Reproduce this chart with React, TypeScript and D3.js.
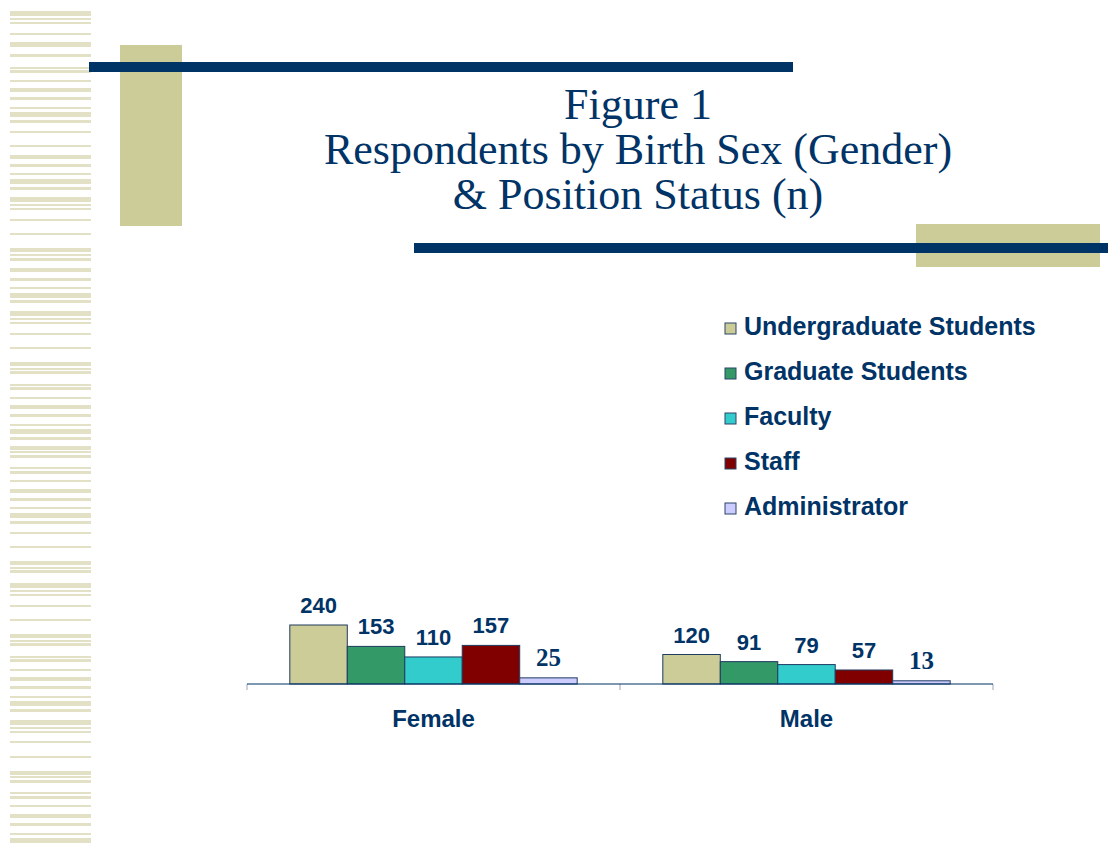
import React from "react";
import * as d3 from "d3";

// chart data
const categories = ["Female", "Male"];
const seriesNames = [
  "Undergraduate Students",
  "Graduate Students",
  "Faculty",
  "Staff",
  "Administrator",
];
const femaleValues = [240, 153, 110, 157, 25];
const maleValues = [120, 91, 79, 57, 13];
const seriesColors = ["#cccc99", "#339966", "#33cccc", "#800000", "#ccccff"];
const titleLines = [
  "Figure 1",
  "Respondents by Birth Sex (Gender)",
  "& Position Status (n)",
];

// decorative stripes on the left edge: [y, height]
const stripes: [number, number][] = [
  [11, 5], [18, 2], [22, 2], [33, 2], [42, 5], [54, 3], [67, 2], [70, 3],
  [80, 2], [88, 4], [97, 3], [107, 2], [112, 5], [120, 3], [131, 2], [145, 2],
  [155, 4], [164, 3], [173, 2], [179, 5], [187, 3], [197, 5], [204, 2], [208, 2],
  [219, 2], [233, 2], [248, 4], [254, 2], [258, 3], [268, 4], [278, 3], [287, 2],
  [293, 5], [300, 3], [311, 5], [318, 2], [322, 2], [333, 2], [347, 2], [362, 4],
  [368, 2], [371, 3], [384, 2], [387, 3], [397, 2], [405, 4], [414, 3], [424, 2],
  [429, 5], [437, 3], [446, 4], [451, 2], [455, 3], [467, 2], [471, 3], [480, 2],
  [489, 4], [498, 3], [507, 2], [513, 5], [521, 3], [532, 2], [546, 2], [561, 4],
  [567, 2], [570, 3], [583, 5], [590, 2], [594, 2], [605, 2], [619, 2], [634, 4],
  [640, 2], [643, 3], [656, 2], [659, 3], [669, 2], [677, 4], [686, 3], [696, 2],
  [701, 5], [709, 3], [720, 5], [727, 2], [731, 2], [741, 2], [756, 2], [771, 4],
  [776, 2], [780, 3], [792, 2], [796, 3], [805, 2], [814, 4], [823, 3], [833, 2],
  [838, 5],
];

const width = 1108;
const height = 846;
const navy = "#003366";
const tan = "#cccc99";

const App = () => {
  const values = [femaleValues, maleValues];

  const x0 = d3.scaleBand<string>().domain(categories).range([247, 993]).padding(0);
  const x1 = d3
    .scaleBand<string>()
    .domain(seriesNames)
    .range([0, x0.bandwidth()])
    .paddingInner(0)
    .paddingOuter(0.745);
  const y = d3.scaleLinear().domain([0, 240]).range([684, 625]);

  const tickXs = [...categories.map((c) => x0(c) as number), 993];

  return (
    <svg
      width={width}
      height={height}
      style={{ position: "absolute", left: 0, top: 0, background: "#fff" }}
    >
      {/* left stripes */}
      {stripes.map(([sy, sh], i) => (
        <rect key={`s-${i}`} x={10} y={sy} width={81} height={sh} fill="#e3e1c5" />
      ))}

      {/* title decorations */}
      <rect x={120} y={45} width={62} height={181} fill={tan} />
      <rect x={89} y={62} width={704} height={10} fill={navy} />
      <rect x={916} y={224} width={184} height={43} fill={tan} />
      <rect x={414} y={243} width={694} height={10} fill={navy} />

      {/* title */}
      {titleLines.map((t, i) => (
        <text
          key={t}
          x={638}
          y={119 + i * 45}
          textAnchor="middle"
          fontFamily="'Liberation Serif', 'Times New Roman', serif"
          fontSize={44}
          fill={navy}
        >
          {t}
        </text>
      ))}

      {/* legend */}
      {seriesNames.map((name, i) => (
        <g key={name} transform={`translate(725, ${335 + i * 45})`}>
          <rect x={0} y={-12} width={11} height={11} fill={seriesColors[i]} stroke="#2b4566" strokeWidth={1} />
          <text
            x={19}
            y={0}
            fontFamily="'Liberation Sans', Arial, sans-serif"
            fontWeight="bold"
            fontSize={25}
            fill={navy}
          >
            {name}
          </text>
        </g>
      ))}

      {/* bars */}
      {categories.map((cat, ci) => (
        <g key={cat} transform={`translate(${x0(cat)}, 0)`}>
          {seriesNames.map((s, si) => {
            const v = values[ci][si];
            const bx = x1(s) as number;
            const serif = v < 50;
            return (
              <g key={s}>
                <rect
                  x={bx}
                  y={y(v)}
                  width={x1.bandwidth()}
                  height={y(0) - y(v)}
                  fill={seriesColors[si]}
                  stroke="#1f3a5f"
                  strokeWidth={1}
                />
                <text
                  x={bx + x1.bandwidth() / 2}
                  y={y(v) - 12}
                  textAnchor="middle"
                  fontFamily={serif ? "'Liberation Serif', 'Times New Roman', serif" : "'Liberation Sans', Arial, sans-serif"}
                  fontWeight="bold"
                  fontSize={serif ? 25 : 22}
                  fill={navy}
                >
                  {v}
                </text>
              </g>
            );
          })}
          <text
            x={x0.bandwidth() / 2}
            y={727}
            textAnchor="middle"
            fontFamily="'Liberation Sans', Arial, sans-serif"
            fontWeight="bold"
            fontSize={24}
            fill={navy}
          >
            {cat}
          </text>
        </g>
      ))}

      {/* axis */}
      {tickXs.map((tx, i) => (
        <line key={`t-${i}`} x1={tx} x2={tx} y1={684} y2={690} stroke="#9aa7b8" strokeWidth={1} />
      ))}
      <line x1={247} x2={993} y1={y(0)} y2={y(0)} stroke={navy} strokeWidth={1.2} />
    </svg>
  );
};

export default App;
